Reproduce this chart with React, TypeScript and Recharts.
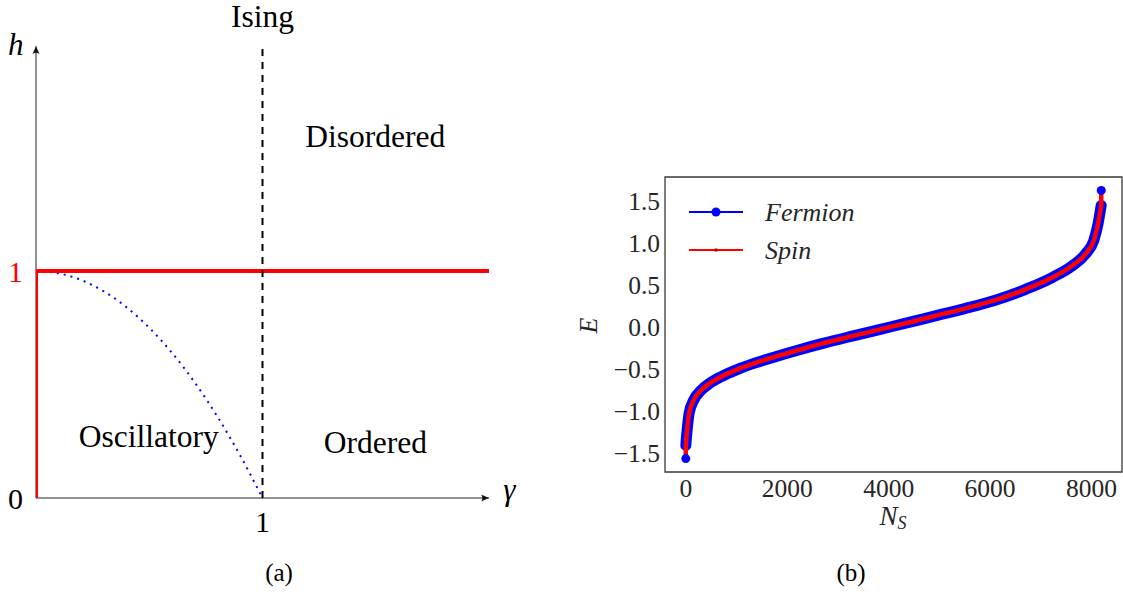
import React from "react";
import {
  LineChart,
  Line,
  XAxis,
  YAxis,
  ReferenceLine,
  ReferenceDot,
  ReferenceArea,
  Legend
} from "recharts";

const FONT = '"Liberation Serif", "Times New Roman", "DejaVu Serif", serif';

// (a) phase diagram in the (gamma, h) plane
const gammaCurve = [0, 0.1, 0.2, 0.3, 0.4, 0.5, 0.6, 0.7, 0.8, 0.9, 1.0];
const hCurve = [1.0, 0.99, 0.96, 0.91, 0.84, 0.75, 0.64, 0.51, 0.36, 0.19, 0.0];
const boundaryGamma = [0, 0, 2];
const boundaryH = [0, 1, 1];
const isingGamma = 1;
const hTicks = [0, 1];
const gammaTicks = [1];

// text anchors (baseline centre) in data units
const phaseLabels = [
  { text: "Disordered", g: 1.498, h: 1.548, italic: false },
  { text: "Oscillatory", g: 0.498, h: 0.226, italic: false },
  { text: "Ordered", g: 1.498, h: 0.197, italic: false },
  { text: "h", g: -0.089, h: 1.952, italic: true },
  { text: "γ", g: 2.09, h: -0.009, italic: true }
];

// (b) sorted single-particle energies
const levelIndex = [
  0, 1, 8, 26, 65, 157, 308, 472, 702, 997, 1357, 1783, 2242, 2700, 3300, 3815,
  4400, 4995, 5500, 6100, 6700, 7223, 7617, 7880, 8043, 8128, 8165, 8190, 8191
];
const fermionEnergy = [
  -1.567, -1.41, -1.35, -1.23, -1.03, -0.87, -0.75, -0.67, -0.59, -0.51, -0.43, -0.35,
  -0.27, -0.195, -0.105, -0.03, 0.055, 0.145, 0.22, 0.32, 0.45, 0.59, 0.73, 0.87, 1.03,
  1.23, 1.36, 1.45, 1.628
];
const spinEnergy = [
  -1.567, -1.41, -1.35, -1.23, -1.03, -0.87, -0.75, -0.67, -0.59, -0.51, -0.43, -0.35,
  -0.27, -0.195, -0.105, -0.03, 0.055, 0.145, 0.22, 0.32, 0.45, 0.59, 0.73, 0.87, 1.03,
  1.23, 1.36, 1.45, 1.628
];
const nTicks = [0, 2000, 4000, 6000, 8000];
const eTicks = [-1.5, -1.0, -0.5, 0.0, 0.5, 1.0, 1.5];

const curvePts = gammaCurve.map((g, i) => ({ g, h: hCurve[i] }));
const boundaryPts = boundaryGamma.map((g, i) => ({ g, h: boundaryH[i] }));

const last = levelIndex.length - 1;
const spectrum = levelIndex.map((n, i) => ({
  n,
  fermion: fermionEnergy[i],
  band: i > 0 && i < last ? fermionEnergy[i] : null,
  spin: spinEnergy[i]
}));

const AxisArrow = (props: any) => {
  const { x1, y1, x2, y2 } = props;
  const a = (Math.atan2(y2 - y1, x2 - x1) * 180) / Math.PI;
  return (
    <g>
      <line x1={x1} y1={y1} x2={x2} y2={y2} stroke="#6e6e6e" strokeWidth={1.5} />
      <path
        d="M0,0 L-8,-3.6 Q-5.2,0 -8,3.6 Z"
        fill="#111"
        transform={`translate(${x2},${y2}) rotate(${a})`}
      />
    </g>
  );
};

const HTick = ({ x, y, payload }: any) => (
  <text
    x={x - 20.5}
    y={y + 10.7}
    textAnchor="middle"
    fontFamily={FONT}
    fontSize={30}
    fill={payload.value === 1 ? "#ff0000" : "#000"}
  >
    {payload.value}
  </text>
);

const GammaTick = ({ x, y, payload }: any) => (
  <text x={x} y={y + 33.7} textAnchor="middle" fontFamily={FONT} fontSize={30} fill="#000">
    {payload.value}
  </text>
);

const fmtE = (v: number) => (v < 0 ? "\u2212" : "") + Math.abs(v).toFixed(1);

// only the first and last fermion levels stick out of the dense band
const EdgeDot = (p: any) => {
  const edge = p.index === 0 || p.index === last;
  if (!edge || p.cy == null) return <g key={`d-${p.index}`} />;
  return <circle key={`d-${p.index}`} cx={p.cx} cy={p.cy} r={4.5} fill="#0000ff" />;
};

const legendNames = ["Fermion", "Spin"];

const renderLegend = ({ payload }: any) => {
  const items = (payload || []).filter(
    (item: any) => item.type !== "none" && legendNames.includes(item.value)
  );
  return (
    <svg width={200} height={80} style={{ display: "block", overflow: "visible" }}>
      {items.map((item: any, i: number) => {
        const y = 22 + i * 38;
        const isFermion = item.value === "Fermion";
        return (
          <g key={item.value}>
            <line x1={5} x2={59} y1={y} y2={y} stroke={item.color} strokeWidth={2} />
            {isFermion ? (
              <circle cx={32} cy={y} r={4.5} fill={item.color} />
            ) : (
              <rect x={30.5} y={y - 1.5} width={3} height={3} fill="#c00000" />
            )}
            <text x={81} y={y + 8.7} fontFamily={FONT} fontStyle="italic" fontSize={26} fill="#262626">
              {item.value}
            </text>
          </g>
        );
      })}
    </svg>
  );
};

const ELabel = (p: any) => {
  const vb = p.viewBox ?? { x: 0, y: 177, width: 105, height: 295 };
  const x = vb.x + 37;
  const y = vb.y + vb.height / 2 + 1;
  return (
    <text
      x={x}
      y={y}
      transform={`rotate(-90 ${x} ${y})`}
      textAnchor="middle"
      fontFamily={FONT}
      fontStyle="italic"
      fontSize={26}
      fill="#262626"
    >
      E
    </text>
  );
};

const NsLabel = (p: any) => {
  const vb = p.viewBox ?? { x: 105, y: 472, width: 457, height: 122 };
  return (
    <text
      x={vb.x + 228}
      y={vb.y + 53}
      textAnchor="middle"
      fontFamily={FONT}
      fontStyle="italic"
      fontSize={27}
      fill="#262626"
    >
      N
      <tspan fontSize={18} dy={4}>
        S
      </tspan>
    </text>
  );
};

const captionStyle = (left: number): React.CSSProperties => ({
  position: "absolute",
  left,
  top: 560,
  transform: "translateX(-50%)",
  fontFamily: FONT,
  fontSize: 25,
  lineHeight: "25px",
  color: "#000"
});

function PhaseDiagram() {
  return (
    <LineChart width={560} height={594} margin={{ top: 44, right: 71, bottom: 0, left: 0 }}>
      <XAxis
        type="number"
        dataKey="g"
        domain={[0, 2]}
        ticks={gammaTicks}
        allowDataOverflow
        height={96}
        axisLine={false}
        tickLine={false}
        tickSize={0}
        tickMargin={0}
        tick={GammaTick}
      />
      <YAxis
        type="number"
        domain={[0, 2]}
        ticks={hTicks}
        allowDataOverflow
        width={36}
        axisLine={false}
        tickLine={false}
        tickSize={0}
        tickMargin={0}
        tick={HTick}
      />
      <ReferenceLine segment={[{ x: 0, y: 0 }, { x: 2, y: 0 }]} shape={AxisArrow} />
      <ReferenceLine segment={[{ x: 0, y: 0 }, { x: 0, y: 1.99 }]} shape={AxisArrow} />
      <Line
        data={curvePts}
        dataKey="h"
        type="monotone"
        stroke="#0000ff"
        strokeWidth={2}
        strokeDasharray="2 5"
        dot={false}
        isAnimationActive={false}
      />
      <Line
        data={boundaryPts}
        dataKey="h"
        type="linear"
        stroke="#ff0000"
        strokeWidth={4}
        strokeLinejoin="miter"
        dot={false}
        isAnimationActive={false}
      />
      <ReferenceLine
        x={isingGamma}
        stroke="#000"
        strokeWidth={2}
        strokeDasharray="7 6"
        label={{ value: "Ising", position: "top", offset: 17, fill: "#000", fontSize: 31.5, fontFamily: FONT }}
      />
      {phaseLabels.map((l) => (
        <ReferenceDot
          key={l.text}
          x={l.g}
          y={l.h}
          r={0}
          ifOverflow="visible"
          shape={(p: any) => (
            <text
              x={p.cx}
              y={p.cy}
              textAnchor="middle"
              fontFamily={FONT}
              fontStyle={l.italic ? "italic" : "normal"}
              fontSize={l.italic ? 31 : 31.5}
              fill="#000"
            >
              {l.text}
            </text>
          )}
        />
      ))}
    </LineChart>
  );
}

function SpectrumPlot() {
  return (
    <LineChart width={563} height={594} data={spectrum} margin={{ top: 177, right: 1, bottom: 0, left: 0 }}>
      <XAxis
        type="number"
        dataKey="n"
        domain={[-410, 8600]}
        ticks={nTicks}
        allowDataOverflow
        height={122}
        axisLine={false}
        tickLine={false}
        tickSize={0}
        tickMargin={7}
        tick={{ fill: "#262626", fontSize: 25.5, fontFamily: FONT }}
        label={NsLabel}
      />
      <YAxis
        type="number"
        domain={[-1.727, 1.788]}
        ticks={eTicks}
        allowDataOverflow
        width={105}
        axisLine={false}
        tickLine={false}
        tickSize={0}
        tickMargin={5}
        tickFormatter={fmtE}
        tick={{ fill: "#262626", fontSize: 25.5, fontFamily: FONT }}
        label={ELabel}
      />
      <ReferenceArea
        x1={-410}
        x2={8600}
        y1={-1.727}
        y2={1.788}
        fill="none"
        fillOpacity={0}
        stroke="#3a3a3a"
        strokeWidth={1.3}
      />
      <Line
        dataKey="band"
        type="monotone"
        stroke="#0000ff"
        strokeWidth={11}
        strokeLinecap="round"
        strokeLinejoin="round"
        dot={false}
        legendType="none"
        isAnimationActive={false}
      />
      <Line
        dataKey="fermion"
        name="Fermion"
        type="monotone"
        stroke="#0000ff"
        strokeWidth={1.5}
        dot={EdgeDot}
        activeDot={false}
        isAnimationActive={false}
      />
      <Line
        dataKey="spin"
        name="Spin"
        type="monotone"
        stroke="#ff0000"
        strokeWidth={4.5}
        dot={false}
        activeDot={false}
        isAnimationActive={false}
      />
      <Legend
        layout="vertical"
        align="center"
        verticalAlign="middle"
        content={renderLegend}
        wrapperStyle={{ left: 124, top: 190, width: 200, height: 80 }}
      />
    </LineChart>
  );
}

export default function App() {
  return (
    <div
      style={{
        position: "absolute",
        left: 0,
        top: 0,
        width: 1123,
        height: 594,
        background: "#fff",
        overflow: "hidden"
      }}
    >
      <div style={{ position: "absolute", left: 0, top: 0 }}>
        <PhaseDiagram />
      </div>
      <div style={{ position: "absolute", left: 560, top: 0 }}>
        <SpectrumPlot />
      </div>
      <div style={captionStyle(279)}>(a)</div>
      <div style={captionStyle(851)}>(b)</div>
    </div>
  );
}
